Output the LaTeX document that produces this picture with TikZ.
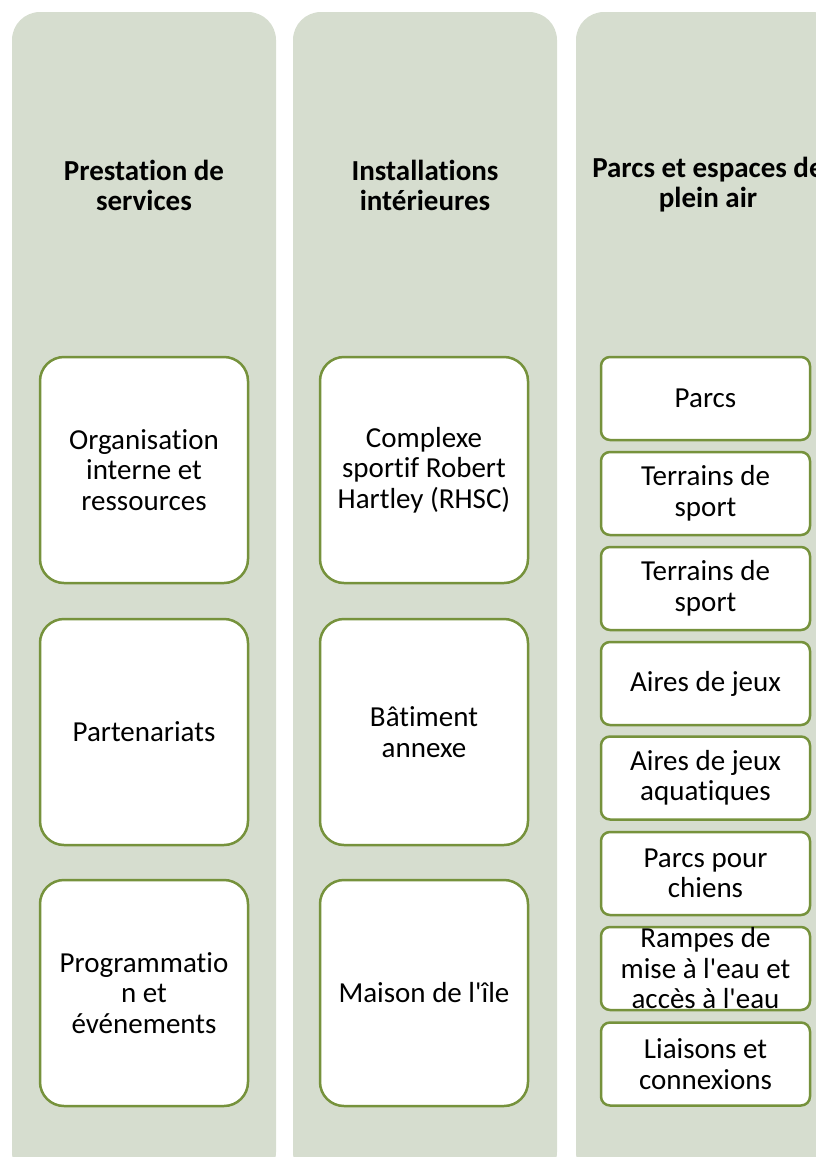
\documentclass[tikz,border=0pt]{standalone}
\usepackage{fontspec}
\setmainfont{Carlito}[Ligatures=NoCommon]
\usepackage{xcolor}
\definecolor{fondcol}{RGB}{214,221,207}
\definecolor{vertbord}{RGB}{118,146,60}
\newcommand\apos{\textquotesingle}
\tikzset{
columnnodev1/.style={rectangle, rounded corners=28pt, draw=none, fill=fondcol, inner sep=0pt, minimum width=264pt, minimum height=1168pt},
headernode/.style={align=center, inner sep=0pt, font=\fontsize{29}{30}\selectfont\bfseries},
boxnodev1/.style={rectangle, rounded corners=24pt, draw=vertbord, fill=white, line width=2.5pt, inner sep=0pt, minimum width=208pt, minimum height=226pt, align=center, font=\fontsize{29}{30.5}\selectfont},
boxnodev2/.style={rectangle, rounded corners=9pt, draw=vertbord, fill=white, line width=2.5pt, inner sep=0pt, minimum width=209pt, minimum height=83pt, align=center, font=\fontsize{29}{30.5}\selectfont},
}
\begin{document}
\begin{tikzpicture}[x=1pt,y=-1pt]
\useasboundingbox (0,0) rectangle (816,1157);
\begin{scope}
\clip (0,0) rectangle (816,1157);
%columns
\node[columnnodev1] at (144,596) (col1) {};
\node[columnnodev1] at (425,596) (col2) {};
\node[columnnodev1] at (708,596) (col3) {};
\node[headernode] at (144,185) (head1) {Prestation de\\services};
\node[headernode] at (425,185) (head2) {Installations\\intérieures};
\node[headernode] at (708,185) (head3) {Parcs et espaces de\\plein air};
%first column
\node[boxnodev1] at (144,470) (orga) {Organisation\\interne et\\ressources};
\node[boxnodev1] at (144,732) (part) {Partenariats};
\node[boxnodev1] at (144,993) (prog) {Programmatio\\n et\\événements};
%second column
\node[boxnodev1] at (424,470) (rhsc) {Complexe\\sportif Robert\\Hartley (RHSC)};
\node[boxnodev1] at (424,732) (annexe) {Bâtiment\\annexe};
\node[boxnodev1] at (424,993) (maison) {Maison de l\apos île};
%third column
\node[boxnodev2] at (705.5,398.5) (parcs) {Parcs};
\node[boxnodev2] at (705.5,493.5) (terrainsa) {Terrains de\\sport};
\node[boxnodev2] at (705.5,588.5) (terrainsb) {Terrains de\\sport};
\node[boxnodev2] at (705.5,683.5) (jeux) {Aires de jeux};
\node[boxnodev2] at (705.5,778) (aquatiques) {Aires de jeux\\aquatiques};
\node[boxnodev2] at (705.5,873.5) (chiens) {Parcs pour\\chiens};
\node[boxnodev2] at (705.5,968.5) (rampes) {Rampes de\\mise à l\apos eau et\\accès à l\apos eau};
\node[boxnodev2] at (705.5,1064) (liaisons) {Liaisons et\\connexions};
\end{scope}
\end{tikzpicture}
\end{document}
